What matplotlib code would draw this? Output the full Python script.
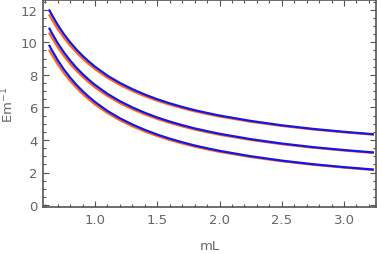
import matplotlib
matplotlib.use("Agg")
import matplotlib.pyplot as plt
from matplotlib.ticker import MultipleLocator

mL = [0.63, 0.65, 0.7, 0.75, 0.8, 0.85, 0.9, 0.95, 1.0, 1.1, 1.2, 1.3, 1.4, 1.5,
      1.6, 1.7, 1.8, 1.9, 2.0, 2.25, 2.5, 2.75, 3.0, 3.24]

blue_top = [12.02, 11.73, 11.07, 10.5, 10.0, 9.56, 9.17, 8.82, 8.5, 7.95, 7.5, 7.12,
            6.79, 6.5, 6.25, 6.03, 5.83, 5.66, 5.5, 5.17, 4.9, 4.68, 4.5, 4.35]
blue_mid = [10.9, 10.61, 9.95, 9.38, 8.88, 8.44, 8.05, 7.7, 7.38, 6.83, 6.38, 6.0,
            5.67, 5.38, 5.13, 4.91, 4.71, 4.54, 4.38, 4.05, 3.78, 3.56, 3.38, 3.23]
blue_low = [9.85, 9.56, 8.9, 8.33, 7.83, 7.39, 7.0, 6.65, 6.33, 5.78, 5.33, 4.95,
            4.62, 4.33, 4.08, 3.86, 3.66, 3.49, 3.33, 3.0, 2.73, 2.51, 2.33, 2.18]

orange_top = [11.72, 11.45, 10.82, 10.28, 9.8, 9.38, 9.0, 8.66, 8.35, 7.82, 7.38, 7.01,
              6.69, 6.41, 6.17, 5.955, 5.76, 5.595, 5.44, 5.12, 4.86, 4.645, 4.47, 4.32]
orange_mid = [10.6, 10.33, 9.7, 9.16, 8.68, 8.26, 7.88, 7.54, 7.23, 6.7, 6.26, 5.89,
              5.57, 5.29, 5.05, 4.835, 4.64, 4.475, 4.32, 4.0, 3.74, 3.525, 3.35, 3.2]
orange_low = [9.55, 9.28, 8.65, 8.11, 7.63, 7.21, 6.83, 6.49, 6.18, 5.65, 5.21, 4.84,
              4.52, 4.24, 4.0, 3.785, 3.59, 3.425, 3.27, 2.95, 2.69, 2.475, 2.3, 2.15]

xticks = [1.0, 1.5, 2.0, 2.5, 3.0]
yticks = [0, 2, 4, 6, 8, 10, 12]

fig = plt.figure(figsize=(3.82, 2.55), dpi=100)
ax = fig.add_axes([43/382, 1-208/255, (376-43)/382, 207/255])

orange = "#FF6A10"
blue = "#1414EE"
for ys in (orange_top, orange_mid, orange_low):
    ax.plot(mL, ys, color=orange, lw=1.6, solid_capstyle="butt", solid_joinstyle="round")
for ys in (blue_top, blue_mid, blue_low):
    ax.plot(mL, ys, color=blue, lw=1.6, solid_capstyle="butt", solid_joinstyle="round")

ax.set_xlim(0.582, 3.257)
ax.set_ylim(-0.12, 12.6)
ax.set_xticks(xticks)
ax.set_yticks(yticks)
ax.set_xticklabels([f"{v:.1f}" for v in xticks])
ax.set_yticklabels([str(v) for v in yticks])
ax.xaxis.set_minor_locator(MultipleLocator(0.1))
ax.yaxis.set_minor_locator(MultipleLocator(0.5))

frame_col = "#555555"
text_col = "#666666"
for s in ax.spines.values():
    s.set_color(frame_col)
    s.set_linewidth(1.2)
ax.tick_params(which="both", direction="in", top=True, right=True, color=frame_col,
               labelcolor=text_col, labelsize=9.5, width=0.8)
ax.tick_params(which="major", length=4, pad=4)
ax.tick_params(which="minor", length=2)

ax.set_xlabel("mL", color=text_col, fontsize=9.5, labelpad=10)
ax.set_ylabel("Em$^{-1}$", color=text_col, fontsize=9.5, labelpad=3)

fig.savefig("out.png", dpi=100)
